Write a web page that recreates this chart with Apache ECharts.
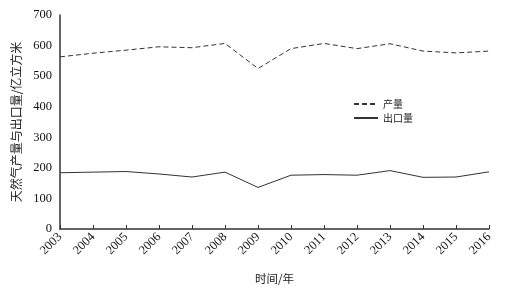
<!DOCTYPE html>
<html>
<head>
<meta charset="utf-8">
<script src="https://cdn.jsdelivr.net/npm/echarts@6/dist/echarts.min.js"></script>
<style>
  html, body { margin: 0; padding: 0; background: #fff; }
  #chart { width: 508px; height: 292px; }
</style>
</head>
<body>
<div id="chart"></div>
<script>
// 年份
var years = ["2003", "2004", "2005", "2006", "2007", "2008", "2009",
  "2010", "2011", "2012", "2013", "2014", "2015", "2016"];
// 产量（亿立方米）
var output = [563, 575, 585, 596, 593, 607, 525, 590, 607, 590, 606, 582, 576, 582];
// 出口量（亿立方米）
var exports = [184, 186, 188, 180, 170, 186, 136, 176, 178, 176, 191, 169, 170, 187];

var serif = "'Liberation Serif', 'Times New Roman', serif";
var cjk = "'Noto Sans CJK SC', sans-serif";

var mychart = echarts.init(document.getElementById("chart"));
var option = {
  animation: false,
  grid: { left: 60, right: 19, top: 15, bottom: 63 },
  legend: {
    orient: "vertical",
    left: 348,
    top: 94,
    itemWidth: 24,
    itemHeight: 8,
    itemGap: 4,
    itemStyle: { opacity: 0 }, // 只要线，不要圆点
    textStyle: { fontFamily: cjk, fontSize: 10, color: "#222" },
    data: ["产量", "出口量"]
  },
  xAxis: {
    type: "category",
    data: years,
    boundaryGap: false,
    name: "时间/年",
    nameLocation: "middle",
    nameGap: 44,
    nameTextStyle: { fontFamily: cjk, fontSize: 11.5, color: "#222" },
    axisLine: { lineStyle: { color: "#333", width: 1.5 } },
    axisTick: { inside: true, length: 4, lineStyle: { color: "#333" } },
    axisLabel: {
      rotate: 45,
      margin: 6,
      fontFamily: serif,
      fontSize: 12.5,
      color: "#111"
    }
  },
  yAxis: {
    type: "value",
    min: 0,
    max: 700,
    interval: 100,
    name: "天然气产量与出口量/亿立方米",
    nameLocation: "middle",
    nameGap: 36,
    nameTextStyle: { fontFamily: cjk, fontSize: 12, color: "#222" },
    axisLine: { show: true, lineStyle: { color: "#333", width: 1.5 } },
    axisTick: { show: false },
    splitLine: { show: false },
    axisLabel: { fontFamily: serif, fontSize: 12.5, color: "#111", margin: 8 }
  },
  series: [
    {
      name: "产量",
      type: "line",
      data: output,
      symbol: "none",
      lineStyle: { color: "#333", width: 1, type: [5, 3] },
      itemStyle: { color: "#333" }
    },
    {
      name: "出口量",
      type: "line",
      data: exports,
      symbol: "none",
      lineStyle: { color: "#333", width: 1 },
      itemStyle: { color: "#333" }
    }
  ]
};
mychart.setOption(option);
</script>
</body>
</html>
